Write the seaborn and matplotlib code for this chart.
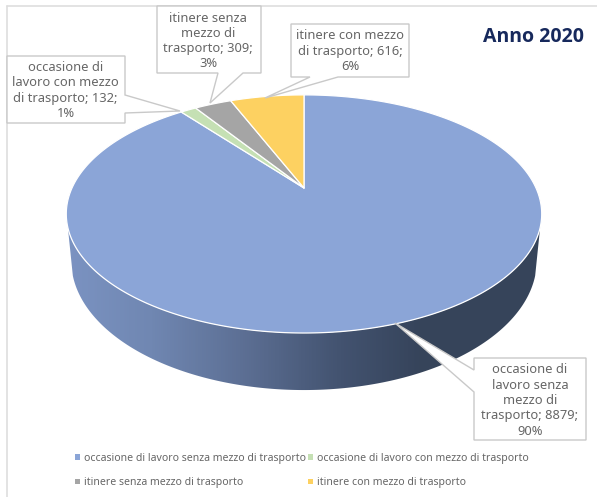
import numpy as np
import matplotlib
matplotlib.use("Agg")
import matplotlib.pyplot as plt
from matplotlib.colors import LinearSegmentedColormap
from matplotlib.patches import Patch, Polygon
from matplotlib.lines import Line2D
import seaborn as sns

# Infortuni per modalita di accadimento, anno 2020
categories = [
    "occasione di lavoro senza mezzo di trasporto",
    "occasione di lavoro con mezzo di trasporto",
    "itinere senza mezzo di trasporto",
    "itinere con mezzo di trasporto",
]
values = [8879, 132, 309, 616]
percent_labels = ["90%", "1%", "3%", "6%"]
wrapped_names = [
    "occasione di\nlavoro senza\nmezzo di\ntrasporto; {v};\n{p}",
    "occasione di\nlavoro con mezzo\ndi trasporto; {v};\n{p}",
    "itinere senza\nmezzo di\ntrasporto; {v};\n{p}",
    "itinere con mezzo\ndi trasporto; {v};\n{p}",
]
palette = sns.color_palette(["#8ba5d7", "#c5e0b4", "#a5a5a5", "#fdd161"])

sns.set_theme(style="white")
plt.rcParams["font.family"] = ["Noto Sans", "DejaVu Sans"]
TEXT = "#666666"
EDGE = "#c9c9c9"

fig = plt.figure(figsize=(5.97, 4.97), dpi=100)
ax = fig.add_axes([0, 0, 1, 1])
ax.set_xlim(0, 597)
ax.set_ylim(497, 0)
ax.axis("off")

# Perspective projection of the unit disc onto the canvas
CX, CY, RX, RY, K = 304, 188, 232, 113.4, 0.218
DROP, TAPER = 44.6, 0.979


def rim(theta, lower=False):
    """Project clockwise angles measured from twelve o'clock."""
    u, v = np.sin(theta), np.cos(theta)
    w = 1 + K * v
    x = RX * u / w
    y = CY - RY * v / w
    if lower:
        return CX + x * TAPER, y + DROP / w
    return CX + x, y


# Side wall with a horizontal shading gradient, clipped to the visible band
arc = np.radians(np.linspace(109, 251, 240))
top_x, top_y = rim(arc)
low_x, low_y = rim(arc, lower=True)
wall_pts = np.column_stack([np.r_[top_x, low_x[::-1]], np.r_[top_y, low_y[::-1]]])
wall = Polygon(wall_pts, closed=True, facecolor="none", edgecolor="none")
ax.add_patch(wall)
stops = [(65, "#7b93c2"), (150, "#7087b2"), (240, "#5d7095"),
         (340, "#435370"), (420, "#36445b"), (545, "#37445a")]
shade = LinearSegmentedColormap.from_list(
    "wall", [((x - 65) / 480, c) for x, c in stops])
im = ax.imshow(np.linspace(0, 1, 480)[None, :], cmap=shade, aspect="auto",
               extent=(65, 545, 400, 200), zorder=1)
im.set_clip_path(wall)
ax.set_xlim(0, 597)
ax.set_ylim(497, 0)

# Top face: slices run clockwise from twelve o'clock
edges = np.r_[0, np.cumsum(values)] / np.sum(values) * 2 * np.pi
for start, stop, colour in zip(edges[:-1], edges[1:], palette):
    theta = np.linspace(start, stop, max(int((stop - start) * 80), 4))
    xs, ys = rim(theta)
    ax.fill(np.r_[CX, xs], np.r_[CY, ys], facecolor=colour,
            edgecolor="white", linewidth=0.9, joinstyle="round", zorder=2)

# Callouts: label box with a tail pointing at its slice
boxes = [
    dict(box=(474, 358, 586, 440), tail=[(474, 370), (395, 323), (474, 392)],
         order="left", text=(530, 400.5)),
    dict(box=(7, 56, 125, 123), tail=[(125, 95), (180, 111), (125, 113)],
         order="right", text=(65.5, 90.5)),
    dict(box=(157, 6, 261, 73), tail=[(243, 73), (210, 103), (218, 73)],
         order="bottom", text=(208, 41)),
    dict(box=(291, 24, 409, 77), tail=[(338, 77), (265, 98), (310, 77)],
         order="bottom", text=(350, 51)),
]
for spec, template, value, pct in zip(boxes, wrapped_names, values, percent_labels):
    x0, y0, x1, y1 = spec["box"]
    tail = spec["tail"]
    if spec["order"] == "left":
        outline = [(x0, y0), (x1, y0), (x1, y1), (x0, y1), tail[2], tail[1], tail[0]]
    elif spec["order"] == "right":
        outline = [(x0, y0), (x1, y0), tail[0], tail[1], tail[2], (x1, y1), (x0, y1)]
    else:
        outline = [(x0, y0), (x1, y0), (x1, y1), tail[0], tail[1], tail[2], (x0, y1)]
    ax.add_patch(Polygon(outline, closed=True, facecolor="white",
                         edgecolor=EDGE, linewidth=1.0, zorder=4))
    ax.text(*spec["text"], template.format(v=value, p=pct), ha="center", va="center",
            fontsize=9.3, color=TEXT, linespacing=1.23, zorder=5)

# Chart frame: only the top and left rules fall inside the canvas
ax.add_line(Line2D([7, 7], [497, 6], color="#dedede", linewidth=1.2, zorder=0))
ax.add_line(Line2D([7, 597], [6, 6], color="#dedede", linewidth=1.2, zorder=0))

ax.text(584, 37, "Anno 2020", ha="right", va="center", fontsize=14,
        fontweight="bold", color="#17295c", family="Open Sans", zorder=5)

# Legend is filled column by column, so blue and grey share the first column
legend_order = [0, 2, 1, 3]
handles = [Patch(facecolor=palette[i], edgecolor="none") for i in legend_order]
labels = [categories[i] for i in legend_order]
ax.legend(handles, labels, ncol=2, frameon=False, loc="upper left",
          bbox_to_anchor=(75 / 597, 1 - 452.5 / 497), fontsize=7.55,
          labelcolor=TEXT, handlelength=0.45, handleheight=0.45,
          handletextpad=0.45, columnspacing=0.15, labelspacing=1.3,
          borderpad=0, borderaxespad=0)

fig.savefig("out.png", dpi=100)
